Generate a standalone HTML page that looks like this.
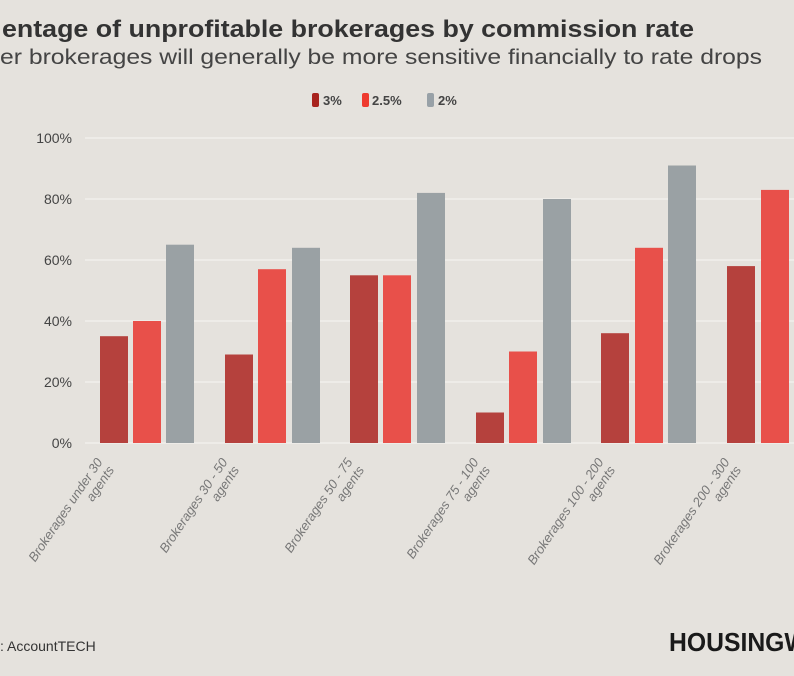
<!DOCTYPE html>
<html><head><meta charset="utf-8"><style>
html,body{margin:0;padding:0;background:#e5e2dd;}
svg{display:block;font-family:"Liberation Sans Narrow","Liberation Sans",sans-serif;}
</style></head><body>
<svg width="794" height="676" viewBox="0 0 794 676" xmlns="http://www.w3.org/2000/svg">
<rect width="794" height="676" fill="#e5e2dd"/>
<text x="2" y="37" font-size="24" font-weight="bold" fill="#333" textLength="692" lengthAdjust="spacingAndGlyphs">entage of unprofitable brokerages by commission rate</text>
<text x="0" y="64" font-size="21" fill="#444" textLength="762" lengthAdjust="spacingAndGlyphs">er brokerages will generally be more sensitive financially to rate drops</text>
<g font-size="13" font-weight="bold" fill="#444">
<rect x="312" y="93" width="7" height="14" rx="2" fill="#a8231e"/><text x="323" y="105">3%</text>
<rect x="362" y="93" width="7" height="14" rx="2" fill="#ee3a2f"/><text x="372" y="105">2.5%</text>
<rect x="427" y="93" width="7" height="14" rx="2" fill="#98a1a7"/><text x="438" y="105">2%</text>
</g>
<g stroke="#f2f0ec" stroke-width="1.5">
<line x1="85" x2="794" y1="138" y2="138"/><line x1="85" x2="794" y1="199" y2="199"/>
<line x1="85" x2="794" y1="260" y2="260"/><line x1="85" x2="794" y1="321" y2="321"/>
<line x1="85" x2="794" y1="382" y2="382"/><line x1="85" x2="794" y1="443" y2="443"/>
</g>
<g font-size="14" fill="#444" text-anchor="end">
<text x="72" y="143">100%</text><text x="72" y="204">80%</text><text x="72" y="265">60%</text>
<text x="72" y="326">40%</text><text x="72" y="387">20%</text><text x="72" y="448">0%</text>
</g>
<g>
<rect x="100" y="336.2" width="28" height="106.8" fill="#b5413d"/>
<rect x="133" y="321" width="28" height="122" fill="#e8504a"/>
<rect x="166" y="244.7" width="28" height="198.3" fill="#9aa1a4"/>
<rect x="225" y="354.5" width="28" height="88.5" fill="#b5413d"/>
<rect x="258" y="269.2" width="28" height="173.8" fill="#e8504a"/>
<rect x="292" y="247.8" width="28" height="195.2" fill="#9aa1a4"/>
<rect x="350" y="275.3" width="28" height="167.7" fill="#b5413d"/>
<rect x="383" y="275.3" width="28" height="167.7" fill="#e8504a"/>
<rect x="417" y="192.9" width="28" height="250.1" fill="#9aa1a4"/>
<rect x="476" y="412.5" width="28" height="30.5" fill="#b5413d"/>
<rect x="509" y="351.5" width="28" height="91.5" fill="#e8504a"/>
<rect x="543" y="199" width="28" height="244" fill="#9aa1a4"/>
<rect x="601" y="333.2" width="28" height="109.8" fill="#b5413d"/>
<rect x="635" y="247.8" width="28" height="195.2" fill="#e8504a"/>
<rect x="668" y="165.5" width="28" height="277.5" fill="#9aa1a4"/>
<rect x="727" y="266.1" width="28" height="176.9" fill="#b5413d"/>
<rect x="761" y="189.9" width="28" height="253.1" fill="#e8504a"/>
</g>
<g font-size="13" font-style="italic" fill="#777" text-anchor="end">
<g transform="translate(103,462) rotate(-56)"><text x="0" y="0">Brokerages under 30</text><text x="0" y="14">agents</text></g>
<g transform="translate(228,462) rotate(-56)"><text x="0" y="0">Brokerages 30 - 50</text><text x="0" y="14">agents</text></g>
<g transform="translate(353,462) rotate(-56)"><text x="0" y="0">Brokerages 50 - 75</text><text x="0" y="14">agents</text></g>
<g transform="translate(479,462) rotate(-56)"><text x="0" y="0">Brokerages 75 - 100</text><text x="0" y="14">agents</text></g>
<g transform="translate(604,462) rotate(-56)"><text x="0" y="0">Brokerages 100 - 200</text><text x="0" y="14">agents</text></g>
<g transform="translate(730,462) rotate(-56)"><text x="0" y="0">Brokerages 200 - 300</text><text x="0" y="14">agents</text></g>
</g>
<text x="0" y="651" font-size="14" fill="#333">: AccountTECH</text>
<text x="669" y="651" font-size="26" font-weight="bold" fill="#1a1a1a" textLength="180" lengthAdjust="spacingAndGlyphs">HOUSINGWIRE</text>
</svg>
</body></html>
